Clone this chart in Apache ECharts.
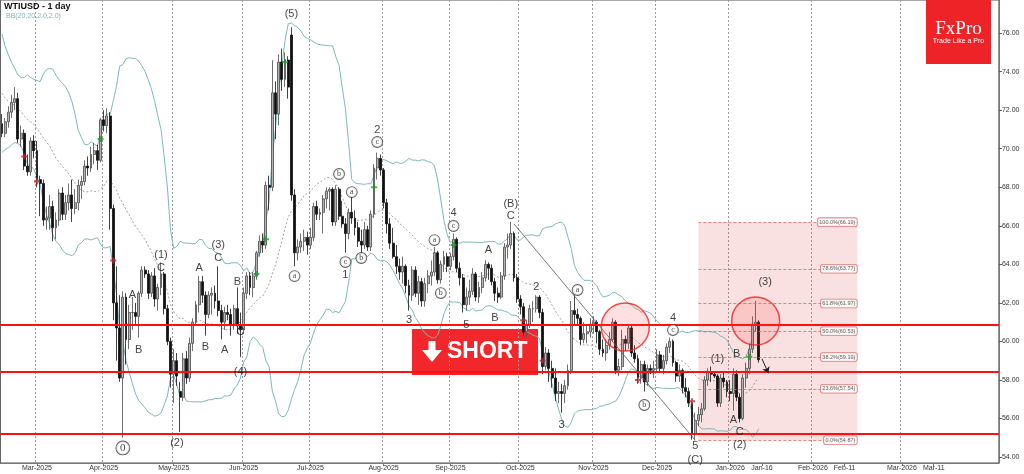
<!DOCTYPE html>
<html><head><meta charset="utf-8">
<script src="https://cdn.jsdelivr.net/npm/echarts@6/dist/echarts.min.js"></script>
<style>html,body{margin:0;padding:0;background:#fff}#c{width:1024px;height:474px}</style>
</head><body><div id="c"></div><script>
// ---------- DATA ----------
// daily candles: [day, open, high, low, close]
const feb2025 = [[14,71.3,71.8,70.6,70.8],[17,70.8,71.6,70.6,71.4],[18,71.4,72.2,71.1,71.9],[19,71.9,72.8,71.6,72.4],[20,72.4,73.2,72.0,72.6],[21,72.6,72.9,70.3,70.5],[24,70.5,71.2,70.1,70.8],[25,70.8,71.0,68.9,69.1],[26,69.1,69.7,68.6,68.8],[27,68.8,70.6,68.6,70.4],[28,70.4,70.7,69.5,69.9]];
const mar2025 = [[3,69.9,70.4,68.0,68.4],[4,68.4,68.6,66.5,68.2],[5,68.2,68.4,66.0,66.3],[6,66.3,67.0,65.8,66.4],[7,66.4,67.6,65.8,67.0],[10,67.0,67.3,65.2,65.9],[11,65.9,66.7,65.3,66.3],[12,66.3,67.9,66.0,67.7],[13,67.7,68.0,66.3,66.6],[14,66.6,67.6,66.3,67.2],[17,67.2,68.2,66.8,67.6],[18,67.6,68.4,66.2,66.9],[19,66.9,67.9,66.6,67.2],[20,67.2,68.4,66.8,68.1],[21,68.1,68.6,67.4,68.3],[24,68.3,69.4,68.1,69.1],[25,69.1,69.6,68.6,69.0],[26,69.0,70.1,68.8,69.7],[27,69.7,70.3,69.2,69.9],[28,69.9,70.2,68.9,69.4],[31,69.4,71.6,69.3,71.5]];
const apr2025 = [[1,71.5,72.0,70.9,71.2],[2,71.2,72.1,70.8,71.7],[3,71.7,71.9,65.8,66.9],[4,66.9,67.1,61.1,62.0],[7,62.0,63.9,59.0,60.7],[8,60.7,62.4,57.9,58.1],[9,58.1,62.6,55.0,62.3],[10,62.3,62.5,58.8,60.1],[11,60.1,61.9,59.6,61.5],[14,61.5,62.3,60.6,61.5],[15,61.5,62.0,60.9,61.3],[16,61.3,62.6,60.2,62.5],[17,62.5,63.9,62.3,63.7],[18,63.7,63.9,63.3,63.5],[21,63.5,63.7,62.2,62.5],[22,62.5,63.6,62.3,63.4],[23,63.4,63.8,61.8,62.2],[24,62.2,63.0,61.6,62.8],[25,62.8,64.1,62.4,63.5],[28,63.5,63.6,61.4,61.7],[29,61.7,61.9,59.8,60.0],[30,60.0,60.2,57.6,58.3]];
const may2025 = [[1,58.3,59.6,56.8,59.0],[2,59.0,59.4,57.7,58.2],[5,57.4,57.9,55.3,57.1],[6,57.1,59.4,56.9,59.1],[7,59.1,59.5,57.8,58.1],[8,58.1,60.2,57.9,59.9],[9,59.9,61.2,59.5,61.0],[12,61.0,62.1,60.9,61.9],[13,61.9,63.4,61.5,63.1],[14,63.1,63.4,62.0,62.4],[15,62.4,62.6,60.3,61.4],[16,61.4,62.6,61.2,62.4],[19,62.4,62.8,61.4,62.5],[20,62.5,62.9,61.7,62.1],[21,62.1,63.9,61.3,61.6],[22,61.6,61.9,60.1,61.0],[23,61.0,61.8,60.6,61.5],[26,61.5,61.9,61.1,61.4],[27,61.4,61.7,60.3,60.9],[28,60.9,61.9,60.6,61.7],[29,61.7,62.8,60.4,60.8],[30,60.8,61.5,59.2,60.6]];
const jun2025 = [[2,60.6,62.8,60.4,62.5],[3,62.5,63.6,62.2,63.4],[4,63.4,63.6,62.4,62.8],[5,62.8,63.6,62.3,63.4],[6,63.4,64.7,63.2,64.6],[9,64.6,65.5,64.4,65.2],[10,65.2,65.6,64.6,65.0],[11,65.0,68.3,64.8,68.1],[12,68.1,68.6,66.8,68.0],[13,68.0,74.6,67.8,72.9],[16,72.9,73.5,70.5,71.8],[17,71.8,74.9,71.2,74.5],[18,74.5,75.2,73.0,73.6],[19,73.6,75.0,73.2,74.6],[20,74.6,74.8,72.6,73.2],[23,75.9,76.3,67.3,67.6],[24,67.6,67.9,63.9,64.6],[25,64.6,65.3,64.2,64.9],[26,64.9,65.6,64.6,65.2],[27,65.2,65.8,64.7,65.4],[30,65.4,65.7,64.5,65.0]];
const jul2025 = [[1,65.0,65.9,64.8,65.4],[2,65.4,67.2,65.2,67.0],[3,67.0,67.3,66.3,66.6],[4,66.6,66.9,66.3,66.7],[7,66.7,67.6,65.6,67.4],[8,67.4,68.0,66.9,67.8],[9,67.8,68.0,66.8,67.9],[10,67.9,68.0,66.0,66.2],[11,66.2,68.1,66.0,67.9],[14,67.9,68.0,66.3,66.5],[15,66.5,67.3,65.9,66.1],[16,66.1,66.4,64.6,65.6],[17,65.6,66.9,65.3,66.7],[18,66.7,67.5,66.1,66.4],[21,66.4,66.8,65.5,65.9],[22,65.9,66.2,64.9,65.2],[23,65.2,65.8,64.6,65.0],[24,65.0,66.2,64.8,65.8],[25,65.8,66.0,64.7,64.9],[28,64.9,66.8,64.7,66.6],[29,66.6,69.2,66.4,69.0],[30,69.0,69.8,68.4,69.5],[31,69.5,69.7,68.6,68.9]];
const aug2025 = [[1,68.9,69.0,66.9,67.2],[4,67.2,67.4,65.6,66.1],[5,66.1,66.4,64.8,65.1],[6,65.1,65.9,64.3,64.4],[7,64.4,65.0,63.5,63.9],[8,63.9,64.3,63.2,63.6],[11,63.6,64.4,63.0,63.9],[12,63.9,64.0,62.5,62.9],[13,62.9,63.2,61.6,62.4],[14,62.4,63.9,62.1,63.7],[15,63.7,63.9,62.3,62.5],[18,62.5,63.4,61.9,63.1],[19,63.1,63.3,61.8,62.1],[20,62.1,63.3,61.8,63.0],[21,63.0,63.7,62.5,63.4],[22,63.4,64.2,62.9,63.6],[25,63.6,64.9,63.4,64.6],[26,64.6,64.7,63.0,63.2],[27,63.2,64.2,63.0,64.0],[28,64.0,64.7,63.6,64.4],[29,64.4,64.6,63.6,63.9]];
const sep2025 = [[1,63.9,64.6,63.7,64.4],[2,64.4,65.6,64.2,65.3],[3,65.3,65.4,63.6,63.8],[4,63.8,64.1,62.9,63.3],[5,63.3,63.5,61.5,61.9],[8,61.9,62.8,61.6,62.3],[9,62.3,63.2,61.9,62.6],[10,62.6,63.8,62.4,63.5],[11,63.5,63.6,62.1,62.3],[12,62.3,63.1,62.0,62.8],[15,62.8,63.6,62.5,63.3],[16,63.3,64.2,63.1,64.0],[17,64.0,64.1,63.2,63.8],[18,63.8,64.0,62.9,63.1],[19,63.1,63.3,62.1,62.5],[22,62.5,62.8,62.0,62.3],[23,62.3,63.6,62.2,63.4],[24,63.4,65.1,63.2,64.9],[25,64.9,65.6,64.3,65.0],[26,65.0,66.2,64.8,65.6],[29,65.6,65.7,63.1,63.3],[30,63.3,63.5,62.0,62.2]];
const oct2025 = [[1,62.2,62.4,61.4,61.8],[2,61.8,62.0,60.3,60.5],[3,60.5,61.1,60.2,60.9],[6,60.9,61.9,60.7,61.7],[7,61.7,62.1,61.0,61.7],[8,61.7,62.4,61.5,62.3],[9,62.3,62.4,61.2,61.5],[10,61.5,61.7,58.3,58.7],[13,58.7,59.7,58.5,59.4],[14,59.4,59.6,57.9,58.6],[15,58.6,59.0,57.6,58.1],[16,58.1,58.6,56.9,57.3],[17,57.3,57.9,56.8,57.4],[20,57.4,57.8,56.3,57.3],[21,57.3,58.0,56.8,57.7],[22,57.7,58.8,57.5,58.5],[23,58.5,62.1,58.3,61.6],[24,61.6,62.4,60.9,61.4],[27,61.4,61.7,60.9,61.2],[28,61.2,61.3,59.8,60.1],[29,60.1,61.0,59.9,60.4],[30,60.4,60.9,59.9,60.5],[31,60.5,61.2,60.2,60.9]];
const nov2025 = [[3,60.9,61.3,60.4,61.0],[4,61.0,61.1,59.9,60.5],[5,60.5,60.6,59.3,59.6],[6,59.6,60.1,59.2,59.4],[7,59.4,60.1,59.0,59.8],[10,59.8,60.5,59.6,60.1],[11,60.1,61.2,60.0,61.0],[12,61.0,61.1,58.3,58.5],[13,58.5,59.1,58.2,58.7],[14,58.7,60.6,58.5,60.1],[17,60.1,60.3,59.5,59.9],[18,59.9,60.9,59.6,60.7],[19,60.7,60.8,59.2,59.4],[20,59.4,59.8,58.9,59.1],[21,59.1,59.3,57.8,58.1],[24,58.1,59.0,57.8,58.8],[25,58.8,59.0,57.4,57.9],[26,57.9,58.8,57.7,58.6],[27,58.6,58.8,58.3,58.5],[28,58.5,59.0,58.1,58.6]];
const dec2025 = [[1,58.6,59.6,58.4,59.3],[2,59.3,59.5,58.4,58.6],[3,58.6,59.3,58.3,59.0],[4,59.0,59.9,58.8,59.7],[5,59.7,60.2,59.4,60.0],[8,60.0,60.1,58.7,58.9],[9,58.9,59.0,57.9,58.2],[10,58.2,58.8,57.9,58.5],[11,58.5,58.6,57.3,57.6],[12,57.6,58.1,57.1,57.4],[15,57.4,57.6,56.6,56.8],[16,56.8,56.9,54.9,55.2],[17,55.2,56.3,54.87,55.9],[18,55.9,56.6,55.6,56.2],[19,56.2,56.8,55.8,56.5],[22,56.5,58.2,56.4,58.0],[23,58.0,58.6,57.7,58.4],[24,58.4,58.7,57.9,58.3],[25,58.3,58.4,58.1,58.2],[26,58.2,58.3,56.6,56.8],[29,56.8,58.3,56.6,58.1],[30,58.1,58.4,57.6,57.9],[31,57.9,58.0,57.1,57.4]];
const jan2026 = [[2,57.4,58.0,56.9,57.3],[5,57.3,58.6,56.4,58.3],[6,58.3,58.5,56.9,57.1],[7,57.1,57.3,55.8,56.0],[8,56.0,58.3,55.9,58.1],[9,58.1,58.9,57.6,58.6],[12,58.6,59.9,58.3,59.6],[13,59.6,61.3,59.4,60.9],[14,60.9,62.1,60.5,61.0],[15,61.0,61.1,58.9,59.05]];
// closes before the first visible bar (for the 20-day Bollinger window)
const priorCloses = [76.4,75.2,74.9,74.4,74.5,73.2,73.6,72.6,72.7,72.5,73.0,72.7,71.2,70.8,71.1,72.2,73.0,71.5,71.3];

// horizontal resistance / support lines
const levelLines = [60.89, 58.40, 55.23];
// Fibonacci retracement: [percent, price], drawn from bar fibStart to bar fibEnd
const fibLevels = [[100.0,66.19],[78.6,63.77],[61.8,61.97],[50.0,60.53],[38.2,59.19],[23.6,57.54],[0.0,54.87]];
const fibStart = 219, fibEnd = 269;
// price tags on the right axis
const priceTags = [[59.05,'#ffffff'],[57.03,'#c9c9f2']];
// highlighted zones (circles): [barIndex, price]
const zones = [[196.2,60.75],[236.5,61.06]];
// signal markers: [barIndex, price]
const redSignals = [[7,69.6],[11,68.3],[35,64.2],[164,61.1],[170,59.0],[200,58.0],[217,56.9]];
const greenSignals = [[31,70.5],[80,63.5],[83,65.3],[89,74.5],[117,68.0],[142,65.0],[235,59.2]];
// trend line and arrow: [barIndex, price]
const trendLine = [[161,66.1],[218,54.87]];
const arrowLine = [[238.6,59.1],[240.6,58.35]];
// wave labels: [barIndex, price, text]
const waveLabels = [[91,77.0,'(5)'],[50,64.5,'(1)'],[50,63.8,'C'],[41,62.4,'A'],[43,59.55,'B'],[55,54.75,'(2)'],[62,63.8,'A'],[64,59.7,'B'],[68,65.0,'(3)'],[68,64.33,'C'],[70,59.55,'A'],[74,63.08,'B'],[75,60.49,'C'],[75,58.41,'(4)'],[108,63.44,'1'],[118,70.97,'2'],[128,61.11,'3'],[142,66.66,'4'],[146,60.85,'5'],[152.5,64.74,'A'],[155,61.21,'B'],[160,67.13,'(B)'],[160,66.51,'C'],[168,62.82,'2'],[176,55.66,'3'],[211,61.21,'4'],[218,54.57,'5'],[218,53.84,'(C)'],[225,59.09,'(1)'],[231,59.35,'B'],[230,55.92,'A'],[232,55.30,'C'],[232,54.62,'(2)'],[240,63.08,'(3)']];
const circledLabels = [[92,63.39,'a'],[106,68.69,'b'],[108,64.12,'c'],[110,67.75,'a'],[113,64.33,'b'],[118,70.35,'c'],[136,65.26,'a'],[138,62.51,'b'],[142,65.99,'c'],[181,62.67,'a'],[202,56.70,'b'],[211,60.59,'c']];
const bigCircledLabels = [[38,54.47,'0']];
// x-axis tick labels and month grid lines
const tickLabels = [['2025-03-03','Mar-2025'],['2025-04-01','Apr-2025'],['2025-05-01','May-2025'],['2025-06-02','Jun-2025'],['2025-07-01','Jul-2025'],['2025-08-01','Aug-2025'],['2025-09-01','Sep-2025'],['2025-10-01','Oct-2025'],['2025-11-03','Nov-2025'],['2025-12-01','Dec-2025'],['2026-01-02','Jan-2026'],['2026-01-16','Jan-16'],['2026-02-01','Feb-2026'],['2026-02-11','Feb-11'],['2026-03-01','Mar-2026'],['2026-03-11','Mar-11']];
const monthLines = ['2025-03-03','2025-04-01','2025-05-01','2025-06-02','2025-07-01','2025-08-01','2025-09-01','2025-10-01','2025-11-03','2025-12-01','2026-01-02','2026-02-01','2026-03-01'];
const yTicks = [54,56,58,60,62,64,66,68,70,72,74,76];

// ---------- BUILD ----------
const pad = n => String(n).padStart(2,'0');
const months = [[2025,2,feb2025],[2025,3,mar2025],[2025,4,apr2025],[2025,5,may2025],[2025,6,jun2025],[2025,7,jul2025],[2025,8,aug2025],[2025,9,sep2025],[2025,10,oct2025],[2025,11,nov2025],[2025,12,dec2025],[2026,1,jan2026]];
const dates = [], candles = [], closes = [];
months.forEach(([y,m,rows]) => rows.forEach(r => {
  dates.push(`${y}-${pad(m)}-${pad(r[0])}`);
  candles.push([r[1], r[4], r[3], r[2]]);
  closes.push(r[4]);
}));
// future calendar days shown on the axis
const d = new Date(Date.UTC(2026,0,16)), endD = new Date(Date.UTC(2026,2,31));
while (d <= endD) { dates.push(`${d.getUTCFullYear()}-${pad(d.getUTCMonth()+1)}-${pad(d.getUTCDate())}`); d.setUTCDate(d.getUTCDate()+1); }

// Bollinger bands (20, 2)
const all = priorCloses.concat(closes);
const bbU = [], bbL = [], bbM = [];
closes.forEach((c,i) => {
  const w = all.slice(i, i+20);
  const m = w.reduce((a,b)=>a+b,0)/w.length;
  const sd = Math.sqrt(w.reduce((a,b)=>a+(b-m)*(b-m),0)/w.length);
  bbM.push(+m.toFixed(3)); bbU.push(+(m+2*sd).toFixed(3)); bbL.push(+(m-2*sd).toFixed(3));
});

const labelMap = Object.fromEntries(tickLabels);
const monthSet = new Set(monthLines);

const chart = echarts.init(document.getElementById('c'), null, {renderer:'canvas'});
const plus = 'path://M2,0H4V2H6V4H4V6H2V4H0V2H2Z';
const circledStyle = (size, fs) => ({ show: true, position: 'inside', formatter: pr => pr.data[2], fontSize: fs, color: '#111', fontFamily: 'Liberation Serif',
  backgroundColor: '#fff', borderColor: '#333', borderWidth: 0.9, borderRadius: size/2, width: size, height: size, lineHeight: size, align: 'center', verticalAlign: 'middle', padding: 0 });

chart.setOption({
  animation: false,
  backgroundColor: '#fff',
  grid: { left: 0.4, right: 25.1, top: 0, bottom: 11, show: true, borderColor: '#555', borderWidth: 1 },
  xAxis: {
    type: 'category', data: dates, boundaryGap: true,
    axisLine: { show: true, lineStyle: { color: '#777' } },
    axisTick: { show: true, length: 3, alignWithLabel: true, interval: (i, v) => v in labelMap, lineStyle: { color: '#777' } },
    axisLabel: { interval: (i, v) => v in labelMap, formatter: v => labelMap[v] || '', fontSize: 7, color: '#333', margin: 2, fontFamily: 'Liberation Sans' },
    splitLine: { show: true, interval: (i, v) => monthSet.has(v), lineStyle: { color: '#9a9a9a', type: [2,2], width: 1 } }
  },
  yAxis: {
    type: 'value', position: 'right', min: 53.69, max: 77.72, scale: true,
    splitLine: { show: false },
    axisLine: { show: true, lineStyle: { color: '#777' } },
    axisTick: { show: true, length: 3, customValues: yTicks, lineStyle: { color: '#555' } },
    axisLabel: { customValues: yTicks, formatter: v => v.toFixed(2), fontSize: 7, color: '#333', margin: 3, fontFamily: 'Liberation Sans' }
  },
  series: [
    { type: 'line', name: 'fib', data: [], z: 1, silent: true,
      markArea: { silent: true, itemStyle: { color: 'rgba(222,80,80,0.17)' },
        data: [[{ coord: [fibStart, fibLevels[0][1]] }, { coord: [fibEnd, fibLevels[fibLevels.length-1][1]] }]] },
      markLine: { silent: true, symbol: ['none','none'], label: { show: false },
        lineStyle: { color: '#e06666', type: [3,2], width: 0.8 },
        data: fibLevels.map(([p,v]) => [{ coord: [fibStart, v] }, { coord: [fibEnd, v] }]) }
    },
    { type: 'line', name: 'bbUpper', data: bbU, showSymbol: false, z: 2, lineStyle: { color: '#7fb7b9', width: 1 } },
    { type: 'line', name: 'bbLower', data: bbL, showSymbol: false, z: 2, lineStyle: { color: '#7fb7b9', width: 1 } },
    { type: 'line', name: 'bbMid', data: bbM, showSymbol: false, z: 2, lineStyle: { color: '#8a8a8a', width: 0.8, type: [2,2] } },
    { type: 'candlestick', name: 'WTIUSD', data: candles, barWidth: 2.4, z: 3,
      itemStyle: { color: '#b4b4b4', color0: '#111', borderColor: '#4a4a4a', borderColor0: '#111', borderWidth: 0.8 },
      markLine: { silent: true, symbol: ['none','none'],
        data: levelLines.map(v => ({ yAxis: v, lineStyle: { color: '#ff1010', width: 2, type: 'solid' }, label: { show: false } }))
          .concat(priceTags.map(([v,bg]) => ({ yAxis: v, lineStyle: { opacity: 0, width: 0 },
            label: { show: true, position: 'end', distance: 1, formatter: v.toFixed(2), backgroundColor: bg, borderColor: '#888', borderWidth: 0.8, borderRadius: 2, padding: [1,2], fontSize: 7, color: '#333', fontFamily: 'Liberation Sans' } }))) }
    },
    { type: 'line', name: 'trend', data: trendLine, showSymbol: false, z: 4, lineStyle: { color: '#555', width: 0.8 } },
    { type: 'line', name: 'arrow', data: [], z: 6,
      markLine: { silent: true, symbol: ['none','arrow'], symbolSize: 6, label: { show: false },
        lineStyle: { color: '#222', width: 1, type: 'solid' },
        data: [[{ coord: arrowLine[0] }, { coord: arrowLine[1] }]] } },
    { type: 'scatter', name: 'zones', data: zones, symbol: 'circle', symbolSize: 48, z: 5,
      itemStyle: { color: 'rgba(255,60,60,0.2)', borderColor: '#ee2020', borderWidth: 1.5 } },
    { type: 'scatter', name: 'red', data: redSignals, symbol: plus, symbolSize: 6, z: 6, itemStyle: { color: '#c0282a' } },
    { type: 'scatter', name: 'green', data: greenSignals, symbol: plus, symbolSize: 6, z: 6, itemStyle: { color: '#1f9a2a' } },
    { type: 'scatter', name: 'fibLabels', data: fibLevels.map(([p,v]) => [fibEnd, v, p]), symbolSize: 1, z: 7,
      itemStyle: { color: 'rgba(0,0,0,0)' },
      label: { show: true, position: 'left', distance: 0, formatter: pr => `${pr.data[2].toFixed(1)}%(${pr.data[1].toFixed(2)})`,
        fontSize: 5.5, color: '#333', backgroundColor: '#fff', borderColor: '#e06060', borderWidth: 0.8, borderRadius: 2, padding: [1,1.5], fontFamily: 'Liberation Sans' } },
    { type: 'scatter', name: 'waves', data: waveLabels, symbolSize: 1, z: 8, itemStyle: { color: 'rgba(0,0,0,0)' },
      label: { show: true, position: 'inside', formatter: pr => pr.data[2], fontSize: 11, color: '#111', fontFamily: 'Liberation Sans' } },
    { type: 'scatter', name: 'circled', data: circledLabels, symbolSize: 1, z: 8, itemStyle: { color: 'rgba(0,0,0,0)' },
      label: circledStyle(10, 8) },
    { type: 'scatter', name: 'circledBig', data: bigCircledLabels, symbolSize: 1, z: 8, itemStyle: { color: 'rgba(0,0,0,0)' },
      label: circledStyle(13, 11) }
  ],
  graphic: [
    { type: 'text', left: 4, top: 2, style: { text: 'WTIUSD - 1 day', font: 'bold 9px Liberation Sans', fill: '#111' }, z: 20 },
    { type: 'text', left: 6, top: 13, style: { text: 'BB(20,20,2.0,2.0)', font: '7px Liberation Sans', fill: '#7fb7b9' }, z: 20 },
    { type: 'group', z: 20, children: [
      { type: 'rect', shape: { x: 926, y: 0, width: 65, height: 64 }, style: { fill: '#ee2328' } },
      { type: 'text', x: 958.5, y: 29, style: { text: 'FxPro', font: '19px Liberation Serif', fill: '#fff', align: 'center', verticalAlign: 'middle' } },
      { type: 'text', x: 958.5, y: 41, style: { text: 'Trade Like a Pro', font: '7px Liberation Sans', fill: '#fff', align: 'center', verticalAlign: 'middle' } }
    ]},
    { type: 'group', z: 20, children: [
      { type: 'rect', shape: { x: 412, y: 329, width: 126, height: 46 }, style: { fill: '#f2272c' } },
      { type: 'polygon', shape: { points: [[428.5,341],[435.5,341],[435.5,350],[442,350],[432,362],[422,350],[428.5,350]] }, style: { fill: '#fff' } },
      { type: 'text', x: 447, y: 352, style: { text: 'SHORT', font: 'bold 23px Liberation Sans', fill: '#fff', verticalAlign: 'middle' } }
    ]}
  ]
});
</script></body></html>
